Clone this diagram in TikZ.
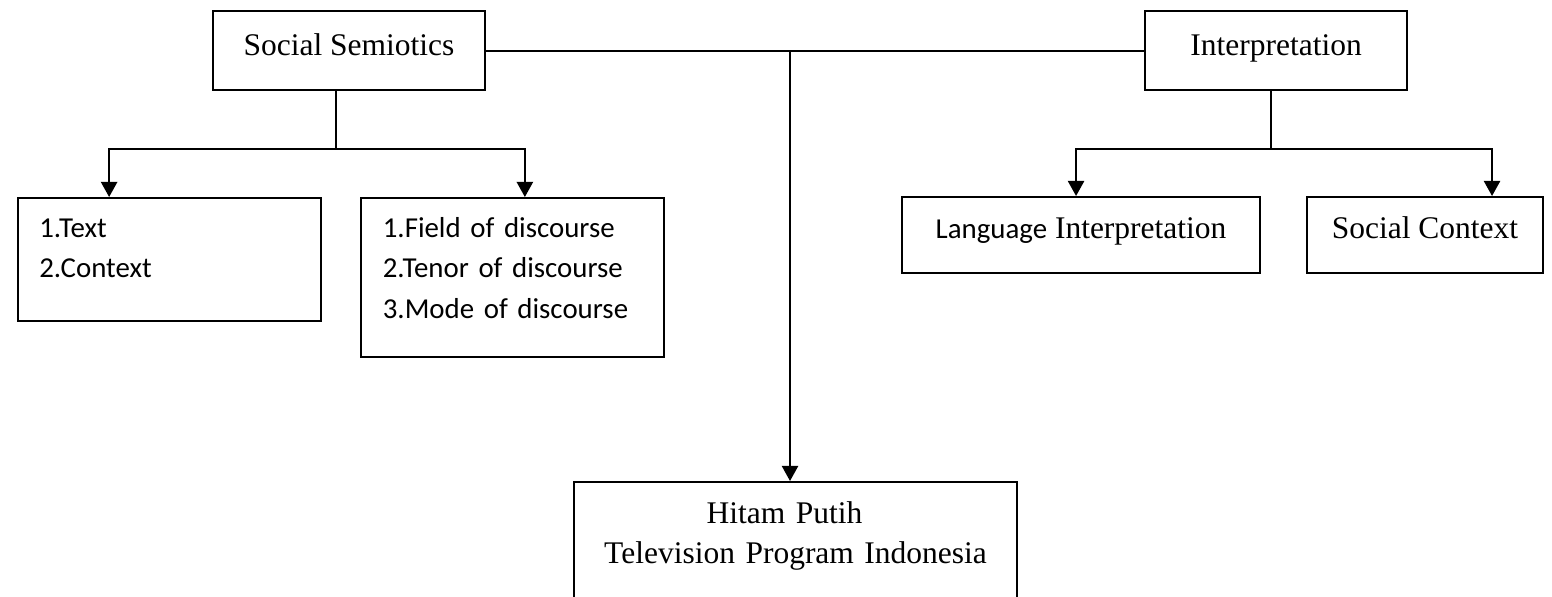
\documentclass[tikz,border=0pt]{standalone}
\usepackage{fontspec}
\setmainfont{Liberation Serif}
\newfontfamily\calibri{Carlito}
\usetikzlibrary{calc}
\usetikzlibrary{arrows.meta}
\tikzstyle{boxnode} = [draw, line width=0.8pt, rectangle, inner sep=0pt, anchor=north west, font=\fontsize{12}{15.6}\selectfont]
\tikzstyle{headnode} = [boxnode, text height=16.8pt, text depth=13.3pt]
\tikzstyle{leafnode} = [boxnode, text height=15.6pt, text depth=13.3pt]
\tikzstyle{listnode} = [boxnode, align=left, inner xsep=8.3pt, text height=14.9pt, font=\calibri\fontsize{11}{15.4}\selectfont]
\tikzstyle{link} = [line width=0.8pt]
\tikzstyle{arrowlink} = [link, -{Triangle[length=5.8pt,width=6.2pt]}]

\begin{document}
\begin{tikzpicture}[x=0.381pt, y=-0.381pt]
\path[use as bounding box, clip] (0,0) rectangle (1552,596);

\node[headnode, minimum width=103.6pt] (semiotics) at (212,10) {Social Semiotics};
\node[headnode, minimum width=99.8pt] (interp) at (1144,10) {Interpretation};

\node[listnode, text width=98.9pt, text depth=32pt] (text_list) at (16.5,197) {1.Text\\2.Context};
\node[listnode, text width=98.7pt, text depth=45.7pt] (field_list) at (360,197) {1.Field of discourse\\2.Tenor of discourse\\3.Mode of discourse};

\node[leafnode, minimum width=136.4pt] (lang_interp) at (901,196) {{\calibri\fontsize{11}{15.6}\selectfont Language} Interpretation};
\node[leafnode, minimum width=89.9pt] (soc_context) at (1306,196) {Social Context};

\node[boxnode, text width=168.8pt, align=center, text height=15.6pt, text depth=53pt] (program) at (573,481) {\hspace*{-8.4pt}Hitam Putih\\Television Program Indonesia};

% top line and the long arrow
\draw[link] (semiotics.east) -- (interp.west);
\coordinate (main_join) at ($(semiotics.east)+(304,0)$);
\draw[arrowlink] (main_join) -- (main_join |- program.north);

% left branch
\coordinate (semi_join) at ($(semiotics.south)+(-13,58)$);
\draw[link] (semi_join |- semiotics.south) -- (semi_join);
\draw[arrowlink] (semi_join) -| ($(text_list.north)+(-60,0)$);
\draw[arrowlink] (semi_join) -| ($(field_list.north)+(12.5,0)$);

% right branch
\coordinate (interp_join) at ($(interp.south)+(-5,58)$);
\draw[link] (interp_join |- interp.south) -- (interp_join);
\draw[arrowlink] (interp_join) -| ($(lang_interp.north)+(-5,0)$);
\draw[arrowlink] (interp_join) -| ($(soc_context.north)+(67,0)$);
\end{tikzpicture}
\end{document}
